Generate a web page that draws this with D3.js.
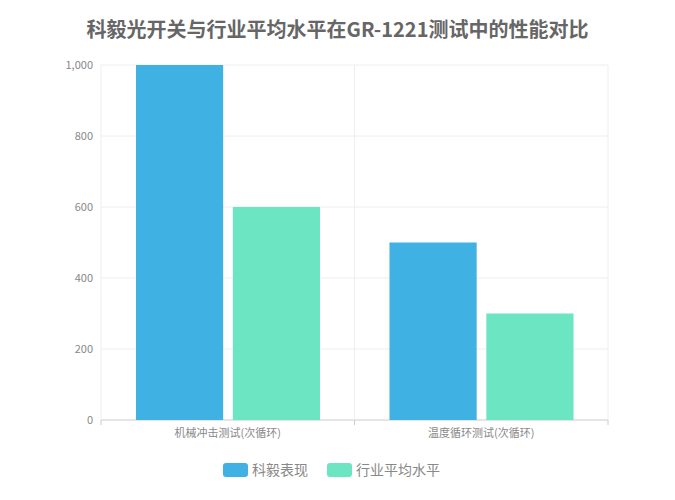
<!DOCTYPE html>
<html><head><meta charset="utf-8">
<script src="https://cdn.jsdelivr.net/npm/d3@7"></script>
<style>body{margin:0;background:#fff;font-family:"Noto Sans CJK SC","Noto Sans",sans-serif}</style>
</head><body><svg id="c" width="675" height="500"></svg>
<script>
const title = "科毅光开关与行业平均水平在GR-1221测试中的性能对比";
const categories = ["机械冲击测试(次循环)", "温度循环测试(次循环)"];
const seriesNames = ["科毅表现", "行业平均水平"];
const keyiValues = [1000, 500];
const industryValues = [600, 300];
const yTicks = [0, 200, 400, 600, 800, 1000];
const colors = ["#40b1e3", "#6ce5c2"];

const svg = d3.select("#c");
const m = {l:101, r:608, t:65, b:420};
const x = d3.scaleBand().domain(categories).range([m.l, m.r]);
const y = d3.scaleLinear().domain([0,1000]).range([m.b, m.t]);

svg.append("text").attr("x",337.5).attr("y",37).attr("text-anchor","middle")
  .attr("font-size",20).attr("font-weight","bold").attr("fill","#666").text(title);

const g = svg.append("g");
yTicks.forEach(t=>{
  g.append("line").attr("x1",m.l).attr("x2",m.r).attr("y1",y(t)).attr("y2",y(t))
   .attr("stroke",t===0?"#ccc":"#eee");
  g.append("text").attr("x",m.l-8).attr("y",y(t)+4).attr("text-anchor","end")
   .attr("font-size",11).attr("fill","#888").text(d3.format(",")(t));
});
[x(categories[1]), m.r].forEach(v=>g.append("line").attr("x1",v).attr("x2",v)
  .attr("y1",m.t).attr("y2",m.b).attr("stroke","#eee"));
g.append("line").attr("x1",m.l).attr("x2",m.l).attr("y1",m.t).attr("y2",m.b).attr("stroke","#eee");

const bw = x.bandwidth();
const inner = d3.scaleBand().domain([0,1]).range([bw*0.138,bw*0.864]).paddingInner(0.1);
const series=[keyiValues, industryValues];
series.forEach((vals,si)=>{
  categories.forEach((c,ci)=>{
    g.append("rect").attr("x",x(c)+inner(si)).attr("width",inner.bandwidth())
     .attr("y",y(vals[ci])).attr("height",y(0)-y(vals[ci])).attr("fill",colors[si]);
  });
});
categories.forEach(c=>{
  g.append("line").attr("x1",x(c)).attr("x2",x(c)).attr("y1",m.b).attr("y2",m.b+5).attr("stroke","#ccc");
  g.append("text").attr("x",x(c)+bw/2).attr("y",m.b+17).attr("text-anchor","middle")
   .attr("font-size",11).attr("fill","#888").text(c);
});
g.append("line").attr("x1",m.r).attr("x2",m.r).attr("y1",m.b).attr("y2",m.b+5).attr("stroke","#ccc");

const lx=[223,327];
seriesNames.forEach((n,i)=>{
  svg.append("rect").attr("x",lx[i]).attr("y",463).attr("width",25).attr("height",14).attr("rx",3).attr("fill",colors[i]);
  svg.append("text").attr("x",lx[i]+29).attr("y",475).attr("font-size",14).attr("fill","#888").text(n);
});
</script></body></html>
